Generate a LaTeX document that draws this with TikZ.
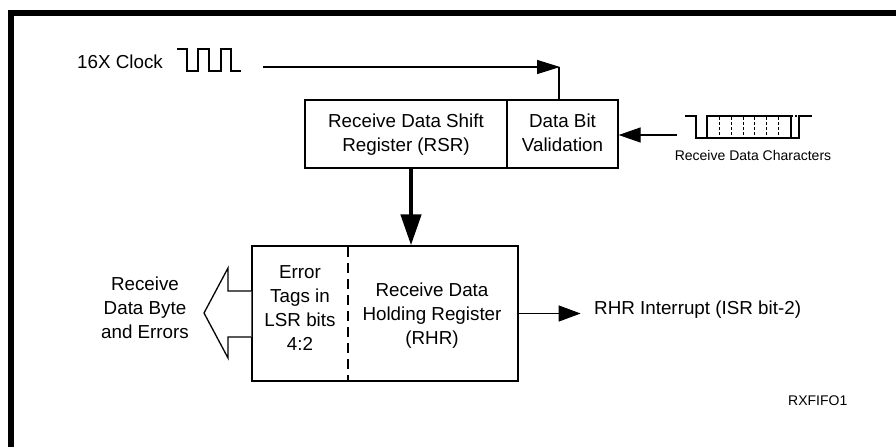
\documentclass[tikz,border=0pt]{standalone}
\usepackage{fontspec}
\setmainfont{Liberation Sans}
\usetikzlibrary{arrows.meta}
\begin{document}
\begin{tikzpicture}[x=1pt,y=-1pt,
  box/.style={draw,line width=1.3pt,inner sep=0pt},
  txt/.style={anchor=base,inner sep=0pt,font=\fontsize{18.8}{24}\selectfont},
  small/.style={anchor=base,inner sep=0pt,font=\fontsize{14}{17}\selectfont},
  conn/.style={line width=1.3pt,-{Triangle[length=22pt,width=15pt]}},
  wave/.style={line width=1.2pt}]
\useasboundingbox (0,0) rectangle (896,447);
% frame
\draw[line width=6pt] (8,13) -- (896,13);
\draw[line width=6pt] (11,10) -- (11,447);
% top boxes
\node[box,minimum width=202pt,minimum height=68pt] (rsr) at (406,134) {};
\node[box,minimum width=111pt,minimum height=68pt] (val) at (562.5,134) {};
\node[txt] (rsrA) at (406,127) {Receive Data Shift};
\node[txt] (rsrB) at (406,151) {Register (RSR)};
\node[txt] (valA) at (562.5,127) {Data Bit};
\node[txt] (valB) at (562.5,151) {Validation};
% bottom box
\node[box,minimum width=266pt,minimum height=135pt] (hold) at (385,313.5) {};
\draw[line width=1.3pt,dash pattern=on 10pt off 6pt] (348,247) -- (348,381);
\node[txt] (errA) at (300,278) {Error};
\node[txt] (errB) at (300,302) {Tags in};
\node[txt] (errC) at (300,326) {LSR bits};
\node[txt] (errD) at (300,350) {4:2};
\node[txt] (rhrA) at (432,296) {Receive Data};
\node[txt] (rhrB) at (432,320) {Holding Register};
\node[txt] (rhrC) at (432,344) {(RHR)};
% hollow output arrow
\draw[line width=1.3pt,fill=white] (hold.west |- 0,291) -- (228,291) -- (228,268) -- (204,313) -- (228,358) -- (228,337) -- (hold.west |- 0,337);
\node[txt] (outA) at (145,290) {Receive};
\node[txt] (outB) at (145,314) {Data Byte};
\node[txt] (outC) at (145,338) {and Errors};
% thick arrow RSR -> RHR
\draw[line width=4.5pt,-{Triangle[length=31pt,width=20pt]}] ([xshift=5pt]rsr.south) -- ([xshift=5pt]rsr.south |- hold.north);
% clock
\node[txt] (clklbl) at (120,68) {16X Clock};
\draw[wave] (177,49) -- (187,49) -- (187,71) -- (198,71) -- (198,49) -- (209,49) -- (209,71) -- (221,71) -- (221,49) -- (231,49) -- (231,71) -- (241,71);
\coordinate (clk) at (263,67);
\coordinate (clktip) at (560,67);
\draw[line width=1.3pt,-{Triangle[length=23pt,width=14pt]}] (clk) -- (clktip);
\draw[line width=1.3pt] ([xshift=-1pt]clktip) -- ([xshift=-1pt]clktip |- val.north);
% receive data waveform
\draw[wave] (685,116) -- (696,116) -- (696,138) -- (799,138) -- (799,116) -- (812,116);
\draw[wave] (707,138) -- (707,116) -- (791,116) -- (791,138);
\draw[wave,dash pattern=on 2pt off 2pt] (791,116) -- (799,116);
\foreach \xx in {719,731,743,754,766,778} \draw[line width=1pt,dash pattern=on 3pt off 2pt] (\xx,117) -- (\xx,138);
\node[small] (rxlbl) at (753,160) {Receive Data Characters};
\coordinate (rxstart) at (677,135);
\draw[conn] (rxstart) -- (rxstart -| val.east);
% RHR interrupt
\draw[line width=1.3pt,-{Triangle[length=22pt,width=16pt]}] (hold.east) -- ++(62,0) coordinate (inttip);
\node[txt,anchor=base west] (intlbl) at (594,314) {RHR Interrupt (ISR bit-2)};
\node[small,anchor=base west] (fig) at (788,405) {RXFIFO1};
\end{tikzpicture}
\end{document}
